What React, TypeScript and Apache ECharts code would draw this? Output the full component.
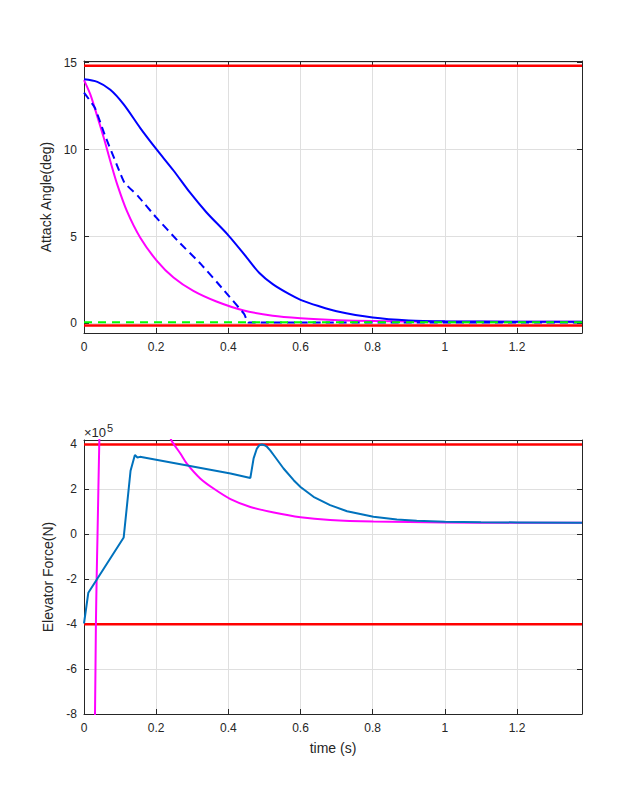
import React, { useEffect, useRef } from "react";
import * as echarts from "echarts";

// ---------- Data ----------
const X_MAX = 1.38;

// Top plot: attack angle (deg)
const angleSolidT = [0, 0.037, 0.073, 0.11, 0.156, 0.2, 0.248, 0.294, 0.339, 0.4, 0.45, 0.486, 0.523, 0.569, 0.6, 0.65, 0.7, 0.8, 0.9, 1.0, 1.2, 1.38];
const angleSolidV = [14.05, 13.9, 13.44, 12.6, 11.24, 10.04, 8.8, 7.52, 6.4, 5.07, 3.82, 2.9, 2.26, 1.68, 1.36, 1.0, 0.7, 0.34, 0.17, 0.12, 0.1, 0.1];

const angleDashT = [0, 0.03, 0.057, 0.094, 0.112, 0.149, 0.2, 0.26, 0.324, 0.389, 0.444, 0.449, 0.455, 0.6, 1.38];
const angleDashV = [13.28, 12.41, 10.88, 8.97, 8.1, 7.34, 6.1, 4.75, 3.41, 1.88, 0.54, 0.3, 0.06, 0.06, 0.06];

const angleMagT = [0, 0.018, 0.037, 0.055, 0.073, 0.092, 0.119, 0.156, 0.202, 0.248, 0.303, 0.367, 0.44, 0.523, 0.6, 0.706, 0.8, 1.0, 1.38];
const angleMagV = [14.0, 13.15, 11.9, 10.67, 9.33, 8.0, 6.46, 4.93, 3.6, 2.64, 1.87, 1.26, 0.76, 0.44, 0.3, 0.19, 0.14, 0.1, 0.1];

const angleRefT = [0, 1.38];
const angleRefV = [0.07, 0.07];

const angleLimits = [14.83, -0.12];

// Bottom plot: elevator force (x1e5 N)
const forceBlueT = [0, 0.012, 0.11, 0.129, 0.141, 0.148, 0.155, 0.406, 0.461, 0.47, 0.479, 0.486, 0.493, 0.5, 0.507, 0.516, 0.526, 0.553, 0.581, 0.6, 0.636, 0.682, 0.729, 0.802, 0.867, 0.922, 1.0, 1.1, 1.2, 1.38];
const forceBlueV = [-3.97, -2.6, -0.14, 2.83, 3.53, 3.42, 3.45, 2.71, 2.51, 3.38, 3.82, 3.97, 4.0, 3.97, 3.9, 3.74, 3.52, 2.93, 2.41, 2.11, 1.67, 1.3, 1.03, 0.78, 0.66, 0.6, 0.56, 0.54, 0.53, 0.52];

const forceMagT = [0.028, 0.0305, 0.033, 0.035, 0.0375, 0.0425, 0.046, 0.06, 0.2, 0.235, 0.242, 0.267, 0.285, 0.322, 0.359, 0.406, 0.461, 0.526, 0.6, 0.682, 0.802, 1.0, 1.2, 1.38];
const forceMagV = [-9.5, -8, -4, -2, 0, 4.2, 6, 9, 9, 4.6, 4.19, 3.6, 3.15, 2.49, 2.04, 1.57, 1.22, 0.97, 0.76, 0.64, 0.57, 0.53, 0.51, 0.51];

const forceLimits = [4, -4];

// ---------- Helpers ----------
const zip = (t: number[], v: number[]) => t.map((x, i) => [x, v[i]]);

const INK = "#262626";
const GRIDC = "#dfdfdf";
const FONT = "'Liberation Sans', Arial, Helvetica, sans-serif";

export default function App() {
  const ref = useRef<HTMLDivElement>(null);

  useEffect(() => {
    if (!ref.current) return;
    const chart = echarts.init(ref.current, undefined, { renderer: "svg" });

    const xBase = (gridIndex: number, top: boolean, name?: string) => ({
      type: "value",
      gridIndex,
      position: top ? "top" : "bottom",
      min: 0,
      max: X_MAX,
      interval: 0.2,
      name: name,
      nameLocation: "middle",
      nameGap: 27,
      nameTextStyle: { color: INK, fontSize: 14, fontFamily: FONT },
      axisLine: { show: true, onZero: false, lineStyle: { color: INK, width: 1 } },
      axisTick: { show: true, inside: true, length: 5, lineStyle: { color: INK, width: 1 } },
      axisLabel: {
        show: !top,
        color: INK,
        fontSize: 12,
        fontFamily: FONT,
        margin: 8,
        showMaxLabel: false,
        formatter: (v: number) => String(Number(v.toFixed(2))),
      },
      splitLine: { show: !top, lineStyle: { color: GRIDC, width: 1 } },
    });

    const yBase = (
      gridIndex: number,
      right: boolean,
      min: number,
      max: number,
      splitNumber: number,
      showMin: boolean,
      name?: string
    ) => ({
      type: "value",
      gridIndex,
      position: right ? "right" : "left",
      min,
      max,
      splitNumber,
      name: name,
      nameLocation: "middle",
      nameGap: 24,
      nameTextStyle: { color: INK, fontSize: 14, fontFamily: FONT },
      axisLine: { show: true, onZero: false, lineStyle: { color: INK, width: 1 } },
      axisTick: { show: true, inside: true, length: 5, lineStyle: { color: INK, width: 1 } },
      axisLabel: {
        show: !right,
        color: INK,
        fontSize: 12,
        fontFamily: FONT,
        margin: 7,
        showMinLabel: showMin,
        showMaxLabel: false,
        formatter: (v: number) => String(Number(v.toFixed(2))),
      },
      splitLine: { show: !right, lineStyle: { color: GRIDC, width: 1 } },
    });

    const line = (
      data: number[][],
      color: string,
      xi: number,
      yi: number,
      type: any = "solid",
      width = 2,
      smooth: number | boolean = false
    ) => ({
      type: "line",
      xAxisIndex: xi,
      yAxisIndex: yi,
      data,
      showSymbol: false,
      symbol: "none",
      clip: true,
      silent: true,
      smooth,
      lineStyle: { color, width, type },
    });

    const series: any[] = [
      ...angleLimits.map((v) => line([[0, v], [X_MAX, v]], "#ff0000", 0, 0, "solid", 2.5)),
      line(zip(angleMagT, angleMagV), "#ff00ff", 0, 0, "solid", 2, 0.3),
      line(zip(angleSolidT, angleSolidV), "#0000ff", 0, 0, "solid", 2, 0.3),
      line(zip(angleDashT, angleDashV), "#0000ff", 0, 0, [8, 5], 2, 0.15),
      line(zip(angleRefT, angleRefV), "#00ff00", 0, 0, [8, 6]),
      ...forceLimits.map((v) => line([[0, v], [X_MAX, v]], "#ff0000", 2, 2, "solid", 2.5)),
      line(zip(forceMagT, forceMagV), "#ff00ff", 2, 2, "solid", 2, 0.25),
      line(zip(forceBlueT, forceBlueV), "#0072bd", 2, 2),
    ];

    chart.setOption({
      animation: false,
      backgroundColor: "#ffffff",
      grid: [
        { left: 84, right: 62, top: 61, height: 272 },
        { left: 84, right: 62, top: 440, height: 274 },
      ],
      xAxis: [xBase(0, false), xBase(0, true), xBase(1, false, "time (s)"), xBase(1, true)],
      yAxis: [
        yBase(0, false, -0.55, 15.1, 3, false, "Attack Angle(deg)"),
        yBase(0, true, -0.55, 15.1, 3, false),
        yBase(1, false, -8, 4.2, 6, true, "Elevator Force(N)"),
        yBase(1, true, -8, 4.2, 6, true),
      ],
      series,
      graphic: [
        {
          type: "text",
          left: 84,
          top: 426,
          style: { text: "×10", fill: INK, fontSize: 13, fontFamily: FONT },
        },
        {
          type: "text",
          left: 107,
          top: 422,
          style: { text: "5", fill: INK, fontSize: 11, fontFamily: FONT },
        },
      ],
    });

    return () => chart.dispose();
  }, []);

  return (
    <div
      ref={ref}
      style={{ position: "absolute", left: 0, top: 0, width: 644, height: 802, background: "#fff" }}
    />
  );
}
